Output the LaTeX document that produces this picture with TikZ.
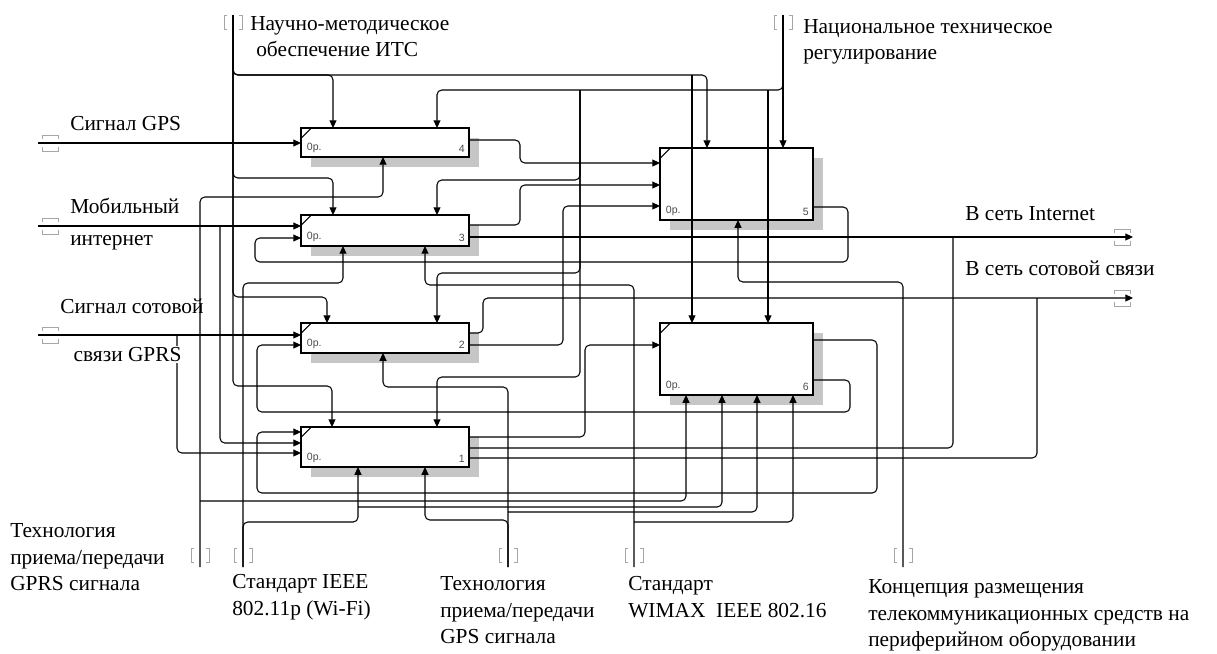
\documentclass[tikz,border=0pt]{standalone}
\usepackage{fontspec}
\setmainfont{Liberation Serif}
\newfontfamily\tagfont{Liberation Sans}
\usetikzlibrary{arrows.meta,shadows}

\begin{document}
\begin{tikzpicture}[
    x=0.025cm, y=-0.025cm,
    fbox/.style={rectangle, draw, line width=1.3pt, fill=white, inner sep=0pt, outer sep=0pt, anchor=north west,
        drop shadow={shadow xshift=0.25cm, shadow yshift=-0.25cm, fill=gray!45, opacity=1},
        path picture={\draw[line width=0.8pt] ([yshift=-0.26cm]path picture bounding box.north west) -- ([xshift=0.26cm]path picture bounding box.north west);},
        label={[boxtag, anchor=south west, xshift=0.14cm, yshift=0.1cm]south west:0р.},
        label={[boxtag, anchor=south east, xshift=-0.1cm, yshift=0.1cm]south east:#1}},
    boxtag/.style={font=\tagfont\fontsize{7.5}{8}\selectfont, text=gray!60!black, inner sep=0pt},
    cline/.style={line width=0.75pt, rounded corners=0.12cm},
    carr/.style={cline, -{Triangle[length=5.5pt, width=5pt]}},
    tunnel/.style={gray!70, line width=0.6pt},
    lbl/.style={font=\fontsize{15.2}{19}\selectfont, align=left, inner sep=0pt, anchor=north west},
    tunv/.pic={\draw[tunnel] (-6,-7) -- (-9,-7) -- (-9,7) -- (-6,7) (6,-7) -- (9,-7) -- (9,7) -- (6,7);},
    tunh/.pic={\draw[tunnel] (-8,-4) -- (-8,-8) -- (8,-8) -- (8,-4) (-8,4) -- (-8,8) -- (8,8) -- (8,4);},
]
\useasboundingbox (0,0) rectangle (1217,653);

% Activity boxes
\node[fbox=4, minimum width=4.2cm, minimum height=0.725cm] (b4) at (301,128) {};
\node[fbox=3, minimum width=4.2cm, minimum height=0.775cm] (b3) at (301,215) {};
\node[fbox=2, minimum width=4.2cm, minimum height=0.75cm] (b2) at (301,323) {};
\node[fbox=1, minimum width=4.2cm, minimum height=1.0cm] (b1) at (301,427) {};
\node[fbox=5, minimum width=3.825cm, minimum height=1.8cm] (b5) at (660,148) {};
\node[fbox=6, minimum width=3.825cm, minimum height=1.8cm] (b6) at (660,323) {};

% Tunnel ends
\coordinate (tC1) at (233,15);
\coordinate (tC2) at (783,15);
\coordinate (tI1) at (38,143);
\coordinate (tI2) at (38,226);
\coordinate (tI3) at (38,335);
\coordinate (tO1) at (1133,237);
\coordinate (tO2) at (1133,298);
\coordinate (tM1) at (200,567);
\coordinate (tM2) at (243,567);
\coordinate (tM3) at (508,567);
\coordinate (tM4) at (634,567);
\coordinate (tM5) at (903,567);

% Branch points
\coordinate (jC1) at (692,75);
\coordinate (jC2a) at (768,90);
\coordinate (jC2b) at (580,90);
\coordinate (jI2) at (220,226);
\coordinate (jI3) at (177,335);
\coordinate (jO1) at (953,237);
\coordinate (jO2) at (1037,298);
\coordinate (jM1) at (200,501);
\coordinate (jM2) at (358,507);
\coordinate (jM3) at (508,512);
\coordinate (jM4) at (634,522);

% Controls
\draw[carr] (tC1) |- (333,75) -- (b4.north -| 333,0);
\draw[carr] (tC1) |- (707,75) -- (b5.north -| 707,0);
\draw[carr] (jC1) -- (b6.north -| jC1);
\draw[carr] (tC1) |- (333,178) -- (b3.north -| 333,0);
\draw[carr] (tC1) |- (327,297) -- (b2.north -| 327,0);
\draw[carr] (tC1) |- (332,386) -- (b1.north -| 332,0);
\draw[carr] (tC2) -- (b5.north -| tC2);
\draw[carr] (tC2) |- (437,90) -- (b4.north -| 437,0);
\draw[carr] (jC2a) -- (b6.north -| jC2a);
\draw[carr] (jC2b) |- (437,180) -- (b3.north -| 437,0);
\draw[carr] (jC2b) |- (437,273) -- (b2.north -| 437,0);
\draw[carr] (jC2b) |- (437,377) -- (b1.north -| 437,0);

% Inputs
\draw[carr] (tI1) -- (b4.west |- 0,143);
\draw[carr] (tI2) -- (b3.west |- 0,226);
\draw[carr] (jI2) |- (b1.west |- 0,443);
\draw[carr] (tI3) -- (b2.west |- 0,335);
\draw[carr] (jI3) |- (b1.west |- 0,453);

% Box to box
\draw[carr] (b4.east |- 0,140) -| (520,163) -- (b5.west |- 0,163);
\draw[carr] (b3.east |- 0,225) -| (520,185) -- (b5.west |- 0,185);
\draw[carr] (b2.east |- 0,345) -| (563,206) -- (b5.west |- 0,206);
\draw[carr] (b1.east |- 0,437) -| (585,345) -- (b6.west |- 0,345);

% Feedback loops
\draw[carr] (b5.east |- 0,207) -| (848,262) -| (255,238) -- (b3.west |- 0,238);
\draw[carr] (b6.east |- 0,380) -| (850,412) -| (257,345) -- (b2.west |- 0,345);
\draw[carr] (b6.east |- 0,340) -| (877,493) -| (257,432) -- (b1.west |- 0,432);

% Outputs
\draw[carr] (b3.east |- 0,237) -- (tO1);
\draw[carr] (b2.east |- 0,333) -| (483,298) -- (tO2);
\draw[cline] (b1.east |- 0,448) -| (jO1);
\draw[cline] (b1.east |- 0,458) -| (jO2);

% Mechanisms
\draw[carr] (tM1) |- (383,197) -- (b4.south -| 383,0);
\draw[carr] (jM1) -| (b6.south -| 686,0);
\draw[carr] (tM2) |- (343,283) -- (b3.south -| 343,0);
\draw[carr] (tM2) |- (358,522) -- (b1.south -| 358,0);
\draw[carr] (jM2) -| (b6.south -| 722,0);
\draw[carr] (tM3) |- (383,387) -- (b2.south -| 383,0);
\draw[carr] (tM3) |- (425,520) -- (b1.south -| 425,0);
\draw[carr] (jM3) -| (b6.south -| 757,0);
\draw[carr] (tM4) |- (425,285) -- (b3.south -| 425,0);
\draw[carr] (jM4) -| (b6.south -| 793,0);
\draw[carr] (tM5) |- (738,282) -- (b5.south -| 738,0);

% Tunnel brackets
\pic at (233,22) {tunv};
\pic at (783,22) {tunv};
\pic at (50,143) {tunh};
\pic at (50,226) {tunh};
\pic at (50,335) {tunh};
\pic at (1122,237) {tunh};
\pic at (1122,298) {tunh};
\pic at (200,555) {tunv};
\pic at (243,555) {tunv};
\pic at (508,555) {tunv};
\pic at (634,555) {tunv};
\pic at (903,555) {tunv};

% Labels
\node[lbl] (lC1) at (250,16) {Научно-методическое\\\hspace*{0.15cm}обеспечение ИТС};
\node[lbl] (lC2) at (803,19) {Национальное техническое\\регулирование};
\node[lbl] (lI1) at (70,116) {Сигнал GPS};
\node[lbl, font=\fontsize{15.2}{23}\selectfont] (lI2) at (70,198) {Мобильный\\интернет};
\node[lbl] (lI3a) at (60,299) {Сигнал сотовой};
\node[lbl, fill=white, inner sep=1pt] (lI3b) at (72,346) {связи GPRS};
\node[lbl] (lO1) at (965,206) {В сеть Internet};
\node[lbl] (lO2) at (965,261) {В сеть сотовой связи};
\node[lbl] (lM1) at (10,523) {Технология\\приема/передачи\\GPRS сигнала};
\node[lbl] (lM2) at (232,574) {Стандарт IEEE\\802.11p (Wi-Fi)};
\node[lbl] (lM3) at (440,576) {Технология\\приема/передачи\\GPS сигнала};
\node[lbl] (lM4) at (628,576) {Стандарт\\WIMAX\ \ IEEE 802.16};
\node[lbl] (lM5) at (868,579) {Концепция размещения\\телекоммуникационных средств на\\периферийном оборудовании};

\end{tikzpicture}
\end{document}
